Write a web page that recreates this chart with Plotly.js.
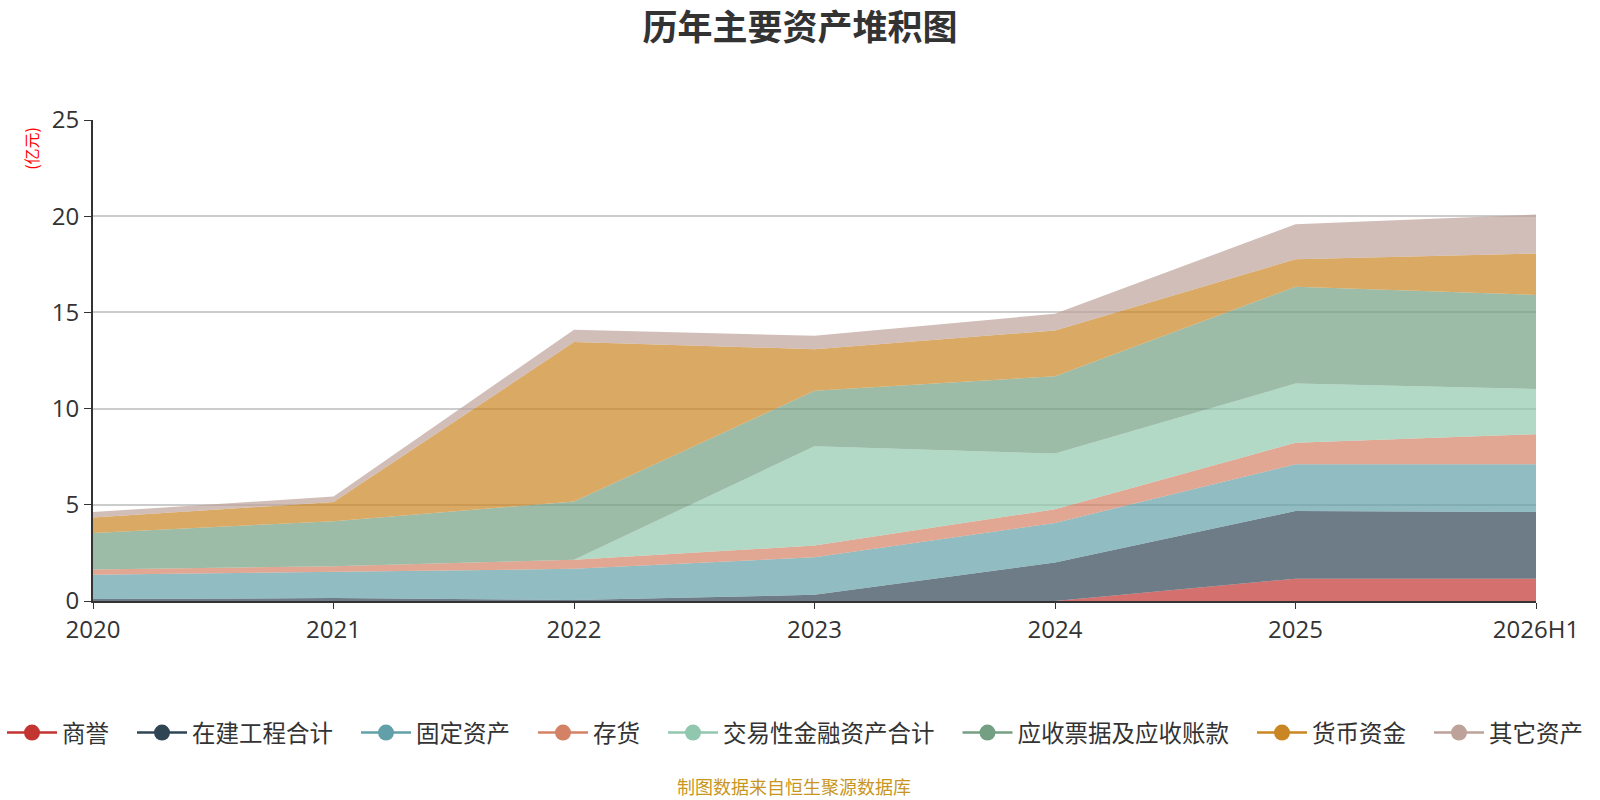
<!DOCTYPE html>
<html>
<head>
<meta charset="utf-8">
<script src="https://cdn.plot.ly/plotly-3.0.1.min.js"></script>
<style>
  html, body { margin: 0; padding: 0; background: #fff; }
  #chart { width: 1600px; height: 800px; }
</style>
</head>
<body>
<div id="chart"></div>
<script>
// 年份 / 报告期
const periods = ['2020', '2021', '2022', '2023', '2024', '2025', '2026H1'];

// 各资产项目（亿元），按堆积顺序从下到上
const goodwill     = [0,    0,    0,    0,    0,    1.16, 1.16];  // 商誉
const construction = [0.10, 0.15, 0.05, 0.32, 2.00, 3.52, 3.47];  // 在建工程合计
const fixedAssets  = [1.26, 1.38, 1.62, 1.95, 2.06, 2.43, 2.48];  // 固定资产
const inventory    = [0.28, 0.28, 0.47, 0.61, 0.71, 1.12, 1.56];  // 存货
const tradingFin   = [0,    0,    0,    5.16, 2.89, 3.07, 2.35];  // 交易性金融资产合计
const receivables  = [1.90, 2.34, 3.03, 2.89, 4.02, 5.03, 4.89];  // 应收票据及应收账款
const cash         = [0.80, 0.99, 8.29, 2.16, 2.38, 1.43, 2.15];  // 货币资金
const otherAssets  = [0.28, 0.29, 0.64, 0.69, 0.87, 1.82, 2.03];  // 其它资产

const seriesNames = ['商誉', '在建工程合计', '固定资产', '存货', '交易性金融资产合计', '应收票据及应收账款', '货币资金', '其它资产'];
const seriesData = [goodwill, construction, fixedAssets, inventory, tradingFin, receivables, cash, otherAssets];
const colors = ['#c23531', '#2f4554', '#61a0a8', '#d48265', '#91c7ae', '#749f83', '#ca8622', '#bda29a'];

function hexToRgba(hex, a) {
  const n = parseInt(hex.slice(1), 16);
  return 'rgba(' + ((n >> 16) & 255) + ',' + ((n >> 8) & 255) + ',' + (n & 255) + ',' + a + ')';
}

// one small legend per series so the row spreads across the full width like the original
const legendFont = 23.5;
const legendItemSpace = 83;  // line+circle, gap before text and gap to next item
function legendKey(i) { return i === 0 ? 'legend' : 'legend' + (i + 1); }

let traces = [];
// stacked areas
seriesData.forEach((vals, i) => {
  traces.push({
    type: 'scatter',
    mode: 'lines',
    name: seriesNames[i],
    x: periods,
    y: vals,
    stackgroup: 'assets',
    line: {width: 0, color: colors[i]},
    fillcolor: hexToRgba(colors[i], 0.7),
    showlegend: false,
    hovertemplate: '%{x}<br>' + seriesNames[i] + ': %{y:.2f}亿元<extra></extra>'
  });
});
// legend entries (line + circle like the original)
seriesNames.forEach((name, i) => {
  traces.push({
    type: 'scatter',
    mode: 'lines+markers',
    name: name,
    x: [periods[0]],
    y: [null],
    line: {color: colors[i], width: 2.5},
    marker: {color: colors[i], size: 18, symbol: 'circle'},
    showlegend: true,
    legend: legendKey(i),
    hoverinfo: 'skip'
  });
});

const tickFont = {family: '"Open Sans", "Noto Sans", sans-serif', size: 24, color: '#333'};

const layout = {
  width: 1600,
  height: 800,
  paper_bgcolor: '#fff',
  plot_bgcolor: '#fff',
  font: {family: '"Noto Sans CJK SC", "Noto Sans", sans-serif', color: '#333'},
  margin: {l: 93, r: 64, t: 120, b: 199},
  title: {
    text: '<b>历年主要资产堆积图</b>',
    font: {size: 35, color: '#333'},
    x: 0.5, xanchor: 'center',
    y: 0.965, yanchor: 'middle'
  },
  xaxis: {
    type: 'category',
    range: [0, 6],
    showgrid: false,
    showline: true,
    linecolor: '#333',
    linewidth: 2,
    ticks: 'outside',
    ticklen: 6,
    tickcolor: '#333',
    tickfont: tickFont,
    zeroline: false,
    fixedrange: true
  },
  yaxis: {
    range: [0, 25],
    dtick: 5,
    showgrid: true,
    gridcolor: '#ccc',
    gridwidth: 1.5,
    showline: true,
    linecolor: '#333',
    linewidth: 2,
    ticks: 'outside',
    ticklen: 7,
    tickcolor: '#333',
    tickfont: tickFont,
    zeroline: false,
    fixedrange: true
  },
  showlegend: true,
  annotations: [
    {
      text: '(亿元)',
      xref: 'paper', yref: 'paper',
      x: -0.043, y: 0.942,
      xanchor: 'center', yanchor: 'middle',
      textangle: -90,
      showarrow: false,
      font: {size: 16, color: '#ff0000'}
    },
    {
      text: '制图数据来自恒生聚源数据库',
      xref: 'paper', yref: 'paper',
      x: 0.486, y: -0.385,
      xanchor: 'center', yanchor: 'middle',
      showarrow: false,
      font: {size: 18, color: '#c8961e'}
    }
  ]
};

let legendX = 2;
seriesNames.forEach((name, i) => {
  layout[legendKey(i)] = {
    orientation: 'h',
    xref: 'container', yref: 'container',
    x: legendX / 1600, xanchor: 'left',
    y: 0.084, yanchor: 'middle',
    font: {size: legendFont, color: '#333'},
    itemwidth: 50,
    bgcolor: 'rgba(0,0,0,0)',
    borderwidth: 0
  };
  legendX += legendItemSpace + name.length * legendFont;
});

Plotly.newPlot('chart', traces, layout, {displayModeBar: false});
</script>
</body>
</html>
